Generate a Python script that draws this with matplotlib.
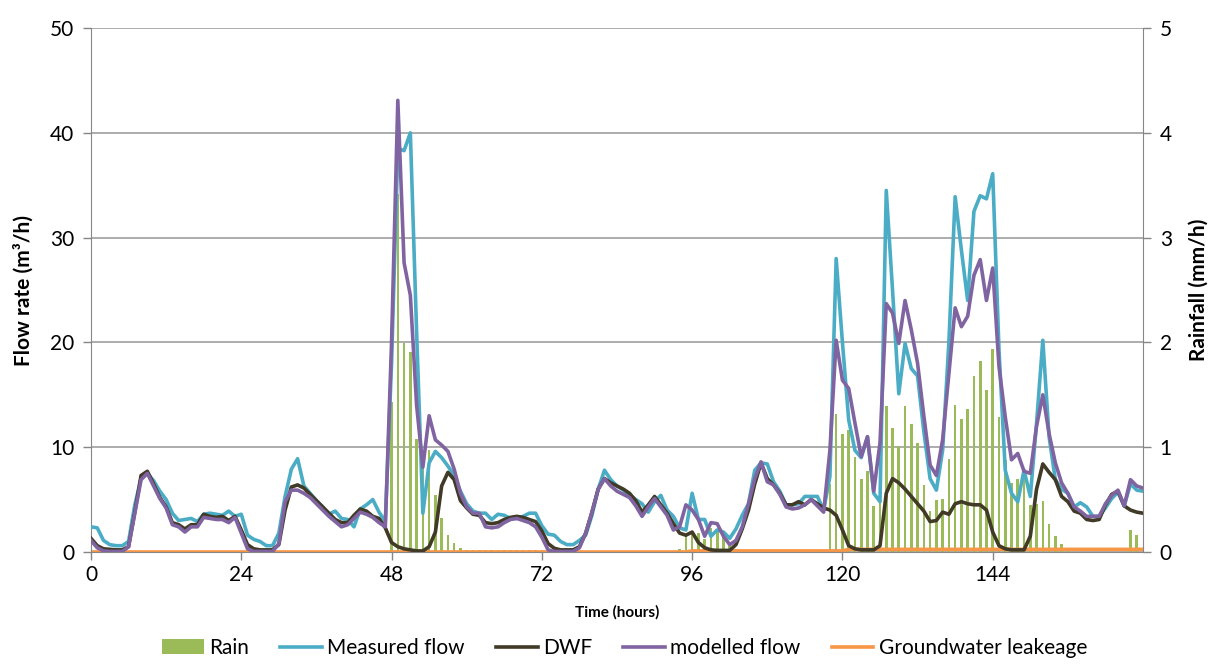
import matplotlib

matplotlib.use("Agg")
import matplotlib.pyplot as plt  # noqa: E402
import numpy as np  # noqa: E402

# hourly series, hour 0 .. 168
hours = np.arange(169)

rain_mm = [
    0, 0, 0, 0, 0, 0, 0, 0, 0, 0, 0, 0, 0, 0, 0, 0, 0, 0, 0, 0, 0, 0, 0, 0,
    0, 0, 0, 0, 0, 0, 0, 0, 0, 0, 0, 0, 0, 0, 0, 0, 0, 0, 0, 0, 0, 0, 0, 0,
    1.43, 3.42, 1.99, 1.91, 1.08, 0.95, 0.97, 0.54, 0.32, 0.16, 0.09, 0.04,
    0.02, 0.02, 0.02, 0.02, 0.02, 0.02, 0.02, 0.02, 0.02, 0.02, 0.02, 0.02, 0.02,
    0, 0, 0, 0, 0, 0, 0, 0, 0, 0, 0, 0, 0, 0, 0, 0, 0, 0, 0, 0, 0,
    0.03, 0.15, 0.18, 0.18, 0.12, 0.23, 0.20, 0.14, 0.06, 0.03,
    0.02, 0.02, 0.02, 0.02, 0.02, 0.02, 0.02, 0.02, 0.02, 0.02, 0.02, 0.02, 0.02, 0.02,
    0.65, 1.32, 1.13, 1.16, 0.91, 0.70, 0.77, 0.44, 0.60, 1.39, 1.18, 1.01, 1.39,
    1.22, 1.04, 0.64, 0.39, 0.50, 0.51, 0.89, 1.40, 1.27, 1.36, 1.68, 1.82, 1.55,
    1.94, 1.29, 0.88, 0.66, 0.70, 0.73, 0.45, 0.46, 0.49, 0.27, 0.15, 0.08, 0.04,
    0, 0, 0, 0, 0, 0, 0, 0, 0, 0.21, 0.16, 0,
]

measured = [
    2.4, 2.3, 1.1, 0.7, 0.6, 0.6, 1.0, 4.5, 7.0, 7.5, 6.8, 5.8, 5.0, 3.7, 3.0, 3.1,
    3.2, 2.9, 3.6, 3.7, 3.6, 3.5, 3.9, 3.4, 3.6, 1.6, 1.2, 1.0, 0.6, 0.6, 1.8, 5.3,
    7.9, 8.9, 6.3, 5.6, 4.9, 4.3, 3.6, 3.9, 3.2, 3.1, 2.4, 4.1, 4.5, 5.0, 3.8, 2.9,
    18.0, 38.5, 38.3, 40.0, 21.0, 3.7, 8.5, 9.6, 9.0, 8.2, 7.3, 5.8, 4.6, 3.9, 3.7, 3.7,
    3.1, 3.6, 3.5, 3.2, 3.2, 3.4, 3.7, 3.7, 2.5, 1.7, 1.6, 1.0, 0.7, 0.7, 1.1, 1.6,
    3.5, 6.0, 7.8, 6.9, 6.3, 5.9, 5.4, 5.0, 4.6, 3.8, 4.8, 5.4, 4.0, 3.4, 2.3, 2.1,
    5.6, 3.1, 3.1, 1.5, 2.1, 1.9, 1.3, 2.2, 3.5, 4.6, 7.8, 8.5, 8.4, 6.7, 5.8, 4.5,
    4.5, 4.6, 5.3, 5.3, 5.3, 4.0, 7.2, 28.0, 20.0, 12.6, 9.7, 9.0, 11.0, 5.6, 4.8, 34.5,
    25.0, 15.1, 19.9, 17.5, 16.8, 11.5, 7.0, 5.9, 9.7, 20.0, 33.9, 28.8, 24.0, 32.5, 34.0, 33.7,
    36.1, 19.3, 7.8, 5.6, 4.8, 7.8, 5.3, 12.3, 20.2, 11.0, 6.9, 6.0, 5.6, 4.3, 4.7, 4.3,
    3.4, 3.4, 4.2, 5.1, 5.7, 4.4, 6.5, 5.9, 5.8,
]

dwf = [
    1.3, 0.6, 0.3, 0.25, 0.2, 0.2, 0.5, 3.8, 7.3, 7.7, 6.5, 5.2, 4.3, 2.8, 2.6, 2.2,
    2.6, 2.6, 3.6, 3.4, 3.3, 3.4, 3.0, 3.4, 2.1, 0.7, 0.3, 0.2, 0.2, 0.2, 0.7, 4.0,
    6.2, 6.4, 6.1, 5.5, 4.9, 4.3, 3.7, 3.1, 2.8, 2.8, 3.5, 4.1, 3.9, 3.4, 3.2, 2.3,
    0.9, 0.5, 0.3, 0.2, 0.1, 0.1, 0.5, 1.9, 6.3, 7.6, 6.9, 4.9, 4.2, 3.6, 3.5, 2.8,
    2.7, 2.8, 3.1, 3.3, 3.4, 3.3, 3.1, 2.9, 2.0, 0.8, 0.35, 0.2, 0.2, 0.2, 0.5, 1.8,
    3.8, 6.0, 7.0, 6.6, 6.3, 6.0, 5.6, 4.9, 3.8, 4.5, 5.3, 4.5, 3.7, 2.7, 1.8, 1.6,
    1.9, 0.9, 0.4, 0.2, 0.15, 0.15, 0.15, 0.7, 2.2, 4.0, 6.5, 8.5, 7.0, 6.4, 5.6, 4.5,
    4.5, 4.8, 4.5, 5.0, 4.6, 4.2, 4.0, 3.5, 2.1, 0.6, 0.3, 0.2, 0.2, 0.2, 0.6, 5.6,
    7.0, 6.6, 6.0, 5.3, 4.6, 3.9, 2.9, 3.0, 3.8, 3.6, 4.6, 4.8, 4.6, 4.5, 4.5, 4.0,
    1.9, 0.6, 0.3, 0.2, 0.2, 0.2, 1.5, 6.0, 8.4, 7.6, 6.9, 5.3, 4.8, 3.9, 3.7, 3.1,
    3.0, 3.1, 4.5, 5.5, 5.8, 4.4, 4.0, 3.8, 3.7,
]

modelled = [
    1.1, 0.4, 0.1, 0.05, 0.05, 0.05, 0.5, 3.7, 6.9, 7.5, 6.3, 5.1, 4.2, 2.6, 2.4, 1.9,
    2.4, 2.4, 3.3, 3.2, 3.1, 3.1, 2.8, 3.3, 1.8, 0.3, 0.05, 0.05, 0.05, 0.05, 0.8, 4.8,
    5.9, 5.9, 5.6, 5.2, 4.6, 4.0, 3.4, 2.9, 2.4, 2.6, 3.2, 3.8, 3.6, 3.3, 2.8, 2.4,
    20.0, 43.1, 27.6, 24.5, 14.0, 8.1, 13.0, 10.7, 10.2, 9.6, 7.9, 5.6, 4.3, 3.7, 3.7, 2.4,
    2.3, 2.4, 2.8, 3.1, 3.2, 3.0, 2.8, 2.4, 1.4, 0.2, 0.05, 0.05, 0.05, 0.05, 0.4, 1.8,
    3.8, 6.0, 7.0, 6.3, 5.8, 5.5, 5.2, 4.4, 3.4, 4.3, 5.1, 4.3, 3.5, 2.1, 2.4, 4.5,
    4.0, 3.1, 1.5, 2.8, 2.7, 1.5, 0.7, 1.1, 2.4, 4.6, 7.0, 8.6, 6.7, 6.4, 5.5, 4.3,
    4.1, 4.2, 4.5, 5.0, 4.4, 3.8, 9.7, 20.2, 16.4, 15.6, 12.3, 9.1, 11.0, 5.8, 10.4, 23.7,
    22.8, 19.9, 24.0, 21.2, 18.0, 13.0, 8.3, 7.3, 10.7, 17.0, 23.3, 21.5, 22.5, 26.4, 27.9, 24.0,
    27.1, 17.7, 12.9, 8.8, 9.4, 7.7, 7.5, 12.0, 15.0, 11.3, 8.5, 6.6, 5.6, 4.3, 3.9, 3.4,
    3.4, 3.4, 4.6, 5.4, 5.9, 4.4, 6.9, 6.3, 6.1,
]

groundwater = [0.0] * 96 + [0.1] * 25 + [0.25] * 48

RAIN = "#9BBB59"
MEASURED = "#4BACC6"
DWF_C = "#403A26"
MODELLED = "#8064A2"
GW = "#F79646"
GRID = "#A6A6A6"
SPINE = "#868686"

plt.rcParams.update(
    {
        "font.family": ["Lato", "DejaVu Sans"],
        "font.size": 15,
    }
)

fig = plt.figure(figsize=(12.13, 6.68), dpi=100)
ax = fig.add_axes([0.075, 0.1737, 0.8673, 0.7843])
axr = ax.twinx()

# rain on the secondary axis, drawn underneath the flow lines
ax.set_zorder(axr.get_zorder() + 1)
ax.patch.set_visible(False)

axr.bar(hours, rain_mm, width=0.42, color=RAIN, label="Rain", zorder=2)
axr.set_ylim(0, 5)
axr.set_yticks(range(0, 6))
axr.grid(axis="y", color=GRID, lw=1.3, zorder=0)
axr.set_axisbelow(True)

ax.plot(hours, groundwater, color=GW, lw=2.6, label="Groundwater leakeage", zorder=2)
ax.plot(hours, measured, color=MEASURED, lw=2.6, label="Measured flow", zorder=3)
ax.plot(hours, dwf, color=DWF_C, lw=2.6, label="DWF", zorder=4)
ax.plot(hours, modelled, color=MODELLED, lw=2.6, label="modelled flow", zorder=5)

ax.set_xlim(0, 168)
ax.set_ylim(0, 50)
ax.set_yticks(range(0, 51, 10))
ax.set_xticks(range(0, 145, 24))

for a in (ax, axr):
    a.spines["top"].set_visible(False)
    a.tick_params(labelsize=15, width=1, length=6)
    a.tick_params(axis="both", colors=SPINE, labelcolor="black")
ax.spines["right"].set_visible(False)
axr.spines["left"].set_visible(False)
for s in ("left", "bottom"):
    ax.spines[s].set_color(SPINE)
axr.spines["right"].set_color(SPINE)
axr.spines["bottom"].set_visible(False)
ax.tick_params(axis="y", pad=6)
axr.tick_params(axis="y", pad=6)

ax.set_ylabel("Flow rate (m³/h)", fontsize=15, fontweight="bold", labelpad=12)
axr.set_ylabel("Rainfall (mm/h)", fontsize=15, fontweight="bold", labelpad=12)
ax.set_xlabel("Time (hours)", fontsize=11, fontweight="bold", labelpad=14)

handles = [axr.containers[0]] + ax.get_lines()[1:] + ax.get_lines()[:1]
labels = ["Rain", "Measured flow", "DWF", "modelled flow", "Groundwater leakeage"]
fig.legend(
    handles,
    labels,
    loc="center",
    bbox_to_anchor=(0.515, 0.03),
    ncol=5,
    frameon=False,
    fontsize=15,
    handlelength=2.0,
    handletextpad=0.25,
    columnspacing=1.5,
)

fig.savefig("out.png", dpi=100)
